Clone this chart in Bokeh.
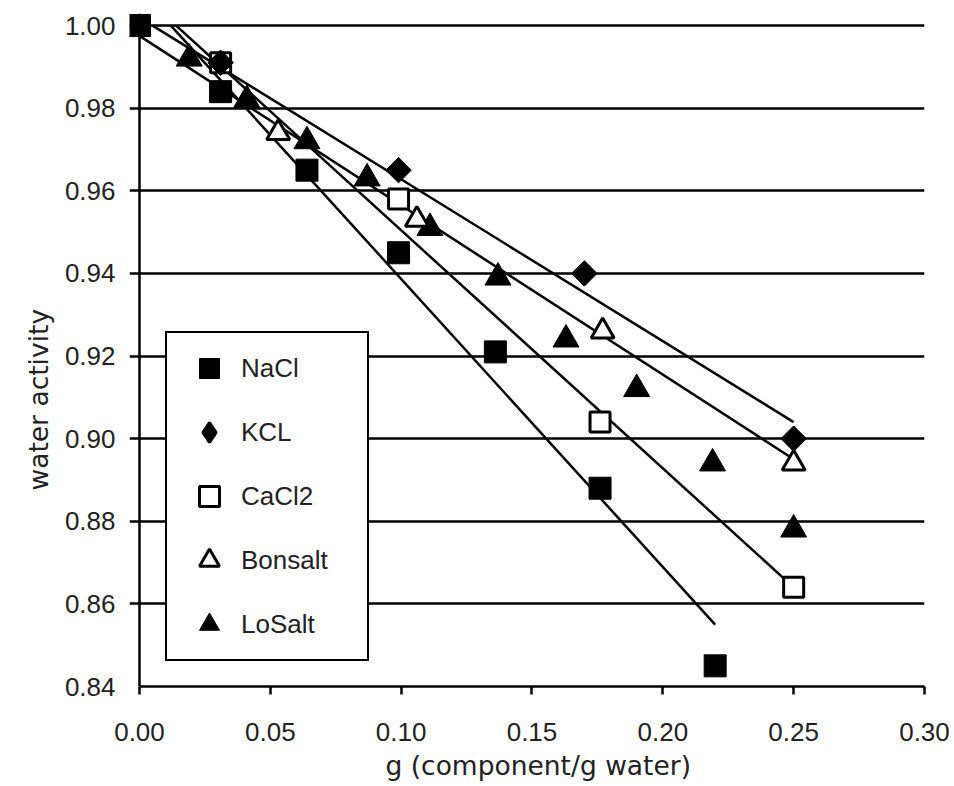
import numpy as np
from bokeh.plotting import figure
from bokeh.models import (Range1d, FixedTicker, PrintfTickFormatter, Legend,
                          LegendItem, Title, Span)
from bokeh.embed import file_html
from bokeh.resources import INLINE

# ---------------- data ----------------
x_ticks = [0.00, 0.05, 0.10, 0.15, 0.20, 0.25, 0.30]
y_ticks = [0.84, 0.86, 0.88, 0.90, 0.92, 0.94, 0.96, 0.98, 1.00]

nacl_x = [0.000, 0.031, 0.064, 0.099, 0.136, 0.176, 0.220]
nacl_y = [1.000, 0.984, 0.965, 0.945, 0.921, 0.888, 0.845]

kcl_x = [0.031, 0.099, 0.170, 0.250]
kcl_y = [0.991, 0.965, 0.940, 0.900]

cacl2_x = [0.031, 0.099, 0.176, 0.250]
cacl2_y = [0.991, 0.958, 0.904, 0.864]

bonsalt_x = [0.053, 0.106, 0.177, 0.250]
bonsalt_y = [0.974, 0.953, 0.926, 0.894]

losalt_x = [0.019, 0.041, 0.064, 0.087, 0.111, 0.137, 0.163, 0.190, 0.219, 0.250]
losalt_y = [0.992, 0.982, 0.972, 0.963, 0.951, 0.939, 0.924, 0.912, 0.894, 0.878]

# fitted straight lines (end points)
nacl_fit_x = [0.012, 0.220]
nacl_fit_y = [1.000, 0.855]
kcl_fit_x = [0.005, 0.250]
kcl_fit_y = [1.000, 0.904]
cacl2_fit_x = [0.014, 0.250]
cacl2_fit_y = [1.000, 0.864]
bonsalt_fit_x = [0.000, 0.250]
bonsalt_fit_y = [0.9975, 0.895]

series_names = ["NaCl", "KCL", "CaCl2", "Bonsalt", "LoSalt"]
x_title = "g (component/g water)"
y_title = "water activity"

# ---------------- styling ----------------
FONT = "Liberation Sans"
TITLE_FONT = "DejaVu Sans"
TXT = "#222222"

p = figure(width=954, height=786, output_backend="svg", toolbar_location=None,
           x_range=Range1d(-0.00382, 0.30), y_range=Range1d(0.84, 1.00292),
           min_border_left=129, min_border_right=30,
           min_border_top=13, min_border_bottom=100)
p.outline_line_color = None
p.background_fill_color = "white"
p.border_fill_color = "white"

p.xgrid.visible = False
p.ygrid.ticker = FixedTicker(ticks=y_ticks)
p.ygrid.grid_line_color = "black"
p.ygrid.grid_line_width = 2.5

# y axis (its line is drawn at x = 0 by a span; the grid lines give the ticks)
p.yaxis.bounds = (0.84, 1.0)
p.yaxis.ticker = FixedTicker(ticks=y_ticks)
p.yaxis.formatter = PrintfTickFormatter(format="%.2f")
p.yaxis.major_tick_out = 0
p.yaxis.major_tick_in = 0
p.yaxis.major_tick_line_color = None
p.yaxis.minor_tick_line_color = None
p.yaxis.axis_line_color = None
p.yaxis.major_label_standoff = 14
p.yaxis.major_label_text_font = FONT
p.yaxis.major_label_text_font_size = "26px"
p.yaxis.major_label_text_color = TXT
p.add_layout(Span(location=0, dimension="height", line_color="black",
                  line_width=2.5))

# x axis
p.xaxis.bounds = (0.0, 0.30)
p.xaxis.ticker = FixedTicker(ticks=x_ticks)
p.xaxis.formatter = PrintfTickFormatter(format="%.2f")
p.xaxis.major_tick_out = 8
p.xaxis.major_tick_in = 0
p.xaxis.major_tick_line_color = "black"
p.xaxis.major_tick_line_width = 2.5
p.xaxis.minor_tick_line_color = None
p.xaxis.axis_line_color = "black"
p.xaxis.axis_line_width = 2.5
p.xaxis.major_label_standoff = 28
p.xaxis.major_label_text_font = FONT
p.xaxis.major_label_text_font_size = "26px"
p.xaxis.major_label_text_color = TXT

# axis titles as side titles, so that they sit where the reference has them
p.add_layout(Title(text=x_title, align="left", offset=256, standoff=8,
                   text_font=TITLE_FONT, text_font_size="26.5px",
                   text_font_style="normal", text_color=TXT), "below")
p.add_layout(Title(text=y_title, align="left", offset=196, standoff=16,
                   text_font=TITLE_FONT, text_font_size="26.5px",
                   text_font_style="normal", text_color=TXT), "left")

# fitted lines
for fx, fy in [(nacl_fit_x, nacl_fit_y), (kcl_fit_x, kcl_fit_y),
               (cacl2_fit_x, cacl2_fit_y), (bonsalt_fit_x, bonsalt_fit_y)]:
    p.line(fx, fy, line_color="black", line_width=2.5)

# markers
r_lo = p.scatter(losalt_x, losalt_y, marker="triangle", size=26,
                 fill_color="black", line_color="black", line_width=1)
r_bon = p.scatter(bonsalt_x, bonsalt_y, marker="triangle", size=23,
                  fill_color="white", line_color="black", line_width=3)
r_ca = p.scatter(cacl2_x, cacl2_y, marker="square", size=20,
                 fill_color="white", line_color="black", line_width=3)
# diamond used for the legend key (hidden under the rotated squares)
r_k_key = p.scatter(kcl_x, kcl_y, marker="diamond", size=18,
                    fill_color="black", line_color="black", line_width=3)
r_k = p.scatter(kcl_x, kcl_y, marker="square", angle=np.pi / 4, size=18,
                fill_color="black", line_color="black", line_width=1)
r_na = p.scatter(nacl_x, nacl_y, marker="square", size=22,
                 fill_color="black", line_color="black", line_width=1)

legend = Legend(items=[LegendItem(label=series_names[0], renderers=[r_na]),
                       LegendItem(label=series_names[1], renderers=[r_k_key]),
                       LegendItem(label=series_names[2], renderers=[r_ca]),
                       LegendItem(label=series_names[3], renderers=[r_bon]),
                       LegendItem(label=series_names[4], renderers=[r_lo])],
                location=(36, 25), orientation="vertical",
                glyph_width=64, glyph_height=50, label_standoff=0,
                label_width=116, label_height=30, spacing=14, padding=10,
                margin=0,
                label_text_font=FONT, label_text_font_size="26px",
                label_text_color=TXT,
                border_line_color="black", border_line_width=2.5,
                border_line_alpha=1.0,
                background_fill_color="white", background_fill_alpha=1.0)
p.add_layout(legend)

open("out.html", "w").write(file_html(p, INLINE))
